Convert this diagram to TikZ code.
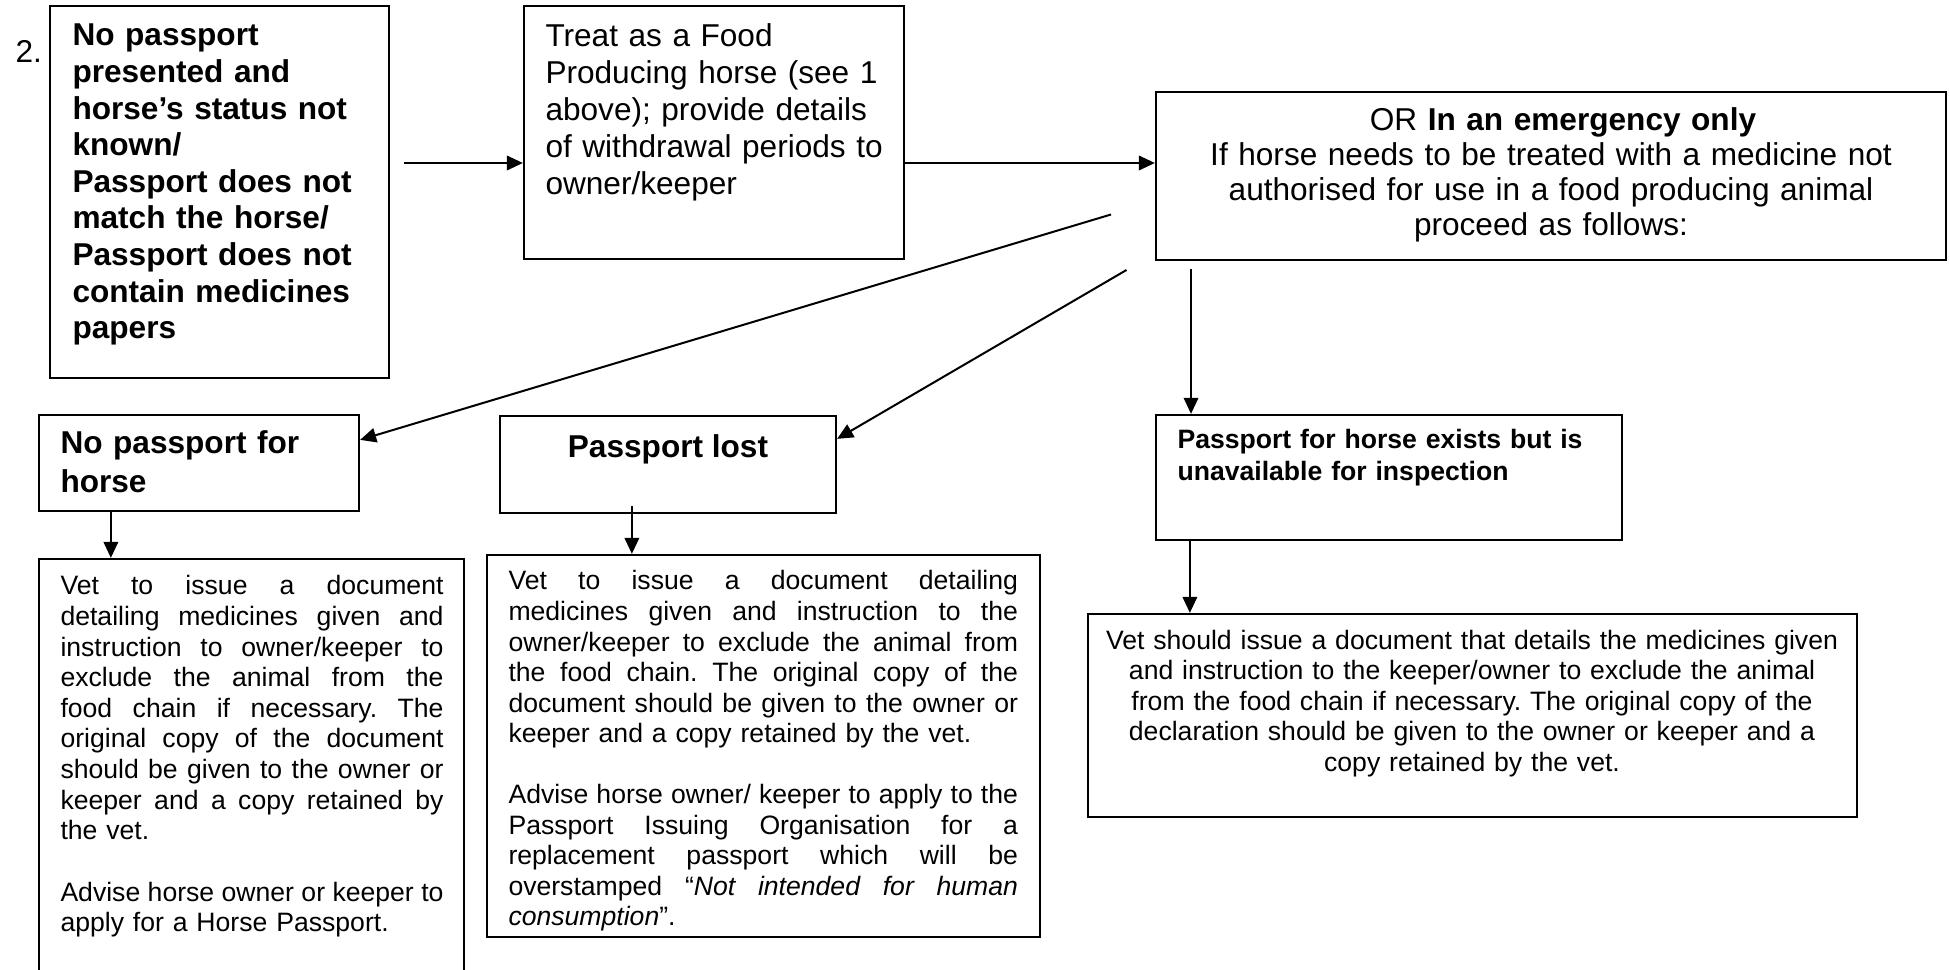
\documentclass[tikz,border=0pt]{standalone}
\usepackage{fontspec}
\setmainfont{Liberation Sans}
\usetikzlibrary{arrows.meta,fit}
\frenchspacing
\tikzset{
  box/.style={draw, line width=0.9pt, inner sep=0pt},
  txt/.style={inner sep=0pt, anchor=base west, align=left},
  ctxt/.style={inner sep=0pt, anchor=base, align=center},
  arr/.style={line width=0.8pt, -{Triangle[length=6.4pt,width=5.8pt]}},
  bigtxt/.style={font=\fontsize{12.64}{14.64}\selectfont},
  bigbold/.style={font=\fontsize{12.64}{14.64}\selectfont\bfseries},
  smalltxt/.style={font=\fontsize{10.64}{12.24}\selectfont},
  smallbold/.style={font=\fontsize{10.64}{12.6}\selectfont\bfseries}
}
\newcommand\jline[1]{\noindent\hbox to\hsize{\spaceskip=0.278em plus 2em minus 0.1em\relax #1}}

\begin{document}
\begin{tikzpicture}[x=0.4pt, y=-0.4pt]
  \useasboundingbox (0,0) rectangle (1950,970);

  \node[box, fit={(50,6) (389,378)}] (nopass) {};
  \node[box, fit={(524,6) (904,259)}] (treat) {};
  \node[box, fit={(1156,92) (1946,260)}] (emerg) {};
  \node[box, fit={(39,415) (359,511)}] (nohorse) {};
  \node[box, fit={(500,416) (836,513)}] (lost) {};
  \node[box, fit={(1156,415) (1622,540)}] (exists) {};
  \node[box, fit={(39,559) (464,1000)}] (vetl) {};
  \node[box, fit={(487,555) (1040,937)}] (vetm) {};
  \node[box, fit={(1088,614) (1857,817)}] (vetr) {};

  \node[txt, bigtxt] (num) at (15,62.5) {2.};
  \node[txt, bigbold, text width=130pt] (nopasst) at (72,46)
    {No passport\\ presented and\\ horse’s status not\\ known/\\
     Passport does not\\ match the horse/\\ Passport does not\\
     contain medicines\\ papers};
  \node[txt, font=\fontsize{12.64}{14.8}\selectfont, text width=140pt] (treatt) at (545,46.5)
    {Treat as a Food\\ Producing horse (see 1\\ above); provide details\\
     of withdrawal periods to\\ owner/keeper};
  \node[ctxt, font=\fontsize{12.64}{14}\selectfont, text width=300pt] (emergt) at (1551,131)
    {\hspace*{9.6pt}OR \textbf{In an emergency only}\\
     If horse needs to be treated with a medicine not\\
     authorised for use in a food producing animal\\
     proceed as follows:};
  \node[txt, font=\fontsize{12.64}{15.6}\selectfont\bfseries, text width=120pt] (nohorset) at (60,454)
    {No passport for\\ horse};
  \node[ctxt, bigbold] (lostt) at (668,458) {Passport lost};
  \node[txt, smallbold, text width=180pt] (existst) at (1177,449)
    {Passport for horse exists but is\\ unavailable for inspection};

  \node[txt, smalltxt, text width=153.2pt] (vetlt) at (60,595)
    {\jline{Vet to issue a document}\\
     \jline{detailing medicines given and}\\
     \jline{instruction to owner/keeper to}\\
     \jline{exclude the animal from the}\\
     \jline{food chain if necessary. The}\\
     \jline{original copy of the document}\\
     \jline{should be given to the owner or}\\
     \jline{keeper and a copy retained by}\\
     the vet.\\[\baselineskip]
     \jline{Advise horse owner or keeper to}\\
     apply for a Horse Passport.};
  \node[txt, font=\fontsize{10.64}{12.2}\selectfont, text width=203.8pt] (vetmt) at (508,590)
    {\jline{Vet to issue a document detailing}\\
     \jline{medicines given and instruction to the}\\
     \jline{owner/keeper to exclude the animal from}\\
     \jline{the food chain. The original copy of the}\\
     \jline{document should be given to the owner or}\\
     keeper and a copy retained by the vet.\\[\baselineskip]
     \jline{Advise horse owner/ keeper to apply to the}\\
     \jline{Passport Issuing Organisation for a}\\
     \jline{replacement passport which will be}\\
     \jline{overstamped “\textit{Not intended for human}}\\
     \textit{consumption}”.};
  \node[ctxt, font=\fontsize{10.64}{12.2}\selectfont, text width=310pt] (vetrt) at (1472,649)
    {Vet should issue a document that details the medicines given\\
     and instruction to the keeper/owner to exclude the animal\\
     from the food chain if necessary. The original copy of the\\
     declaration should be given to the owner or keeper and a\\
     copy retained by the vet.};

  \coordinate (s1) at (404,163);
  \coordinate (s3) at (1111,214.5);
  \coordinate (s4) at (1126.5,270);
  \coordinate (s5) at (1191,269.5);
  \coordinate (s6) at ([xshift=29.2pt]nohorse.south west);
  \coordinate (s7) at ([shift={(133,-8)}]lost.south west);
  \coordinate (s8) at ([xshift=14pt]exists.south west);

  \draw[arr] (s1) -- (s1 -| treat.west);
  \draw[arr] (s1 -| treat.east) -- (s1 -| emerg.west);
  \draw[arr] (s3) -- ([yshift=-10.4pt]nohorse.north east);
  \draw[arr] (s4) -- ([yshift=-9.6pt]lost.north east);
  \draw[arr] (s5) -- (s5 |- exists.north);
  \draw[arr] (s6) -- (s6 |- vetl.north);
  \draw[arr] (s7) -- (s7 |- vetm.north);
  \draw[arr] (s8) -- (s8 |- vetr.north);
\end{tikzpicture}
\end{document}
